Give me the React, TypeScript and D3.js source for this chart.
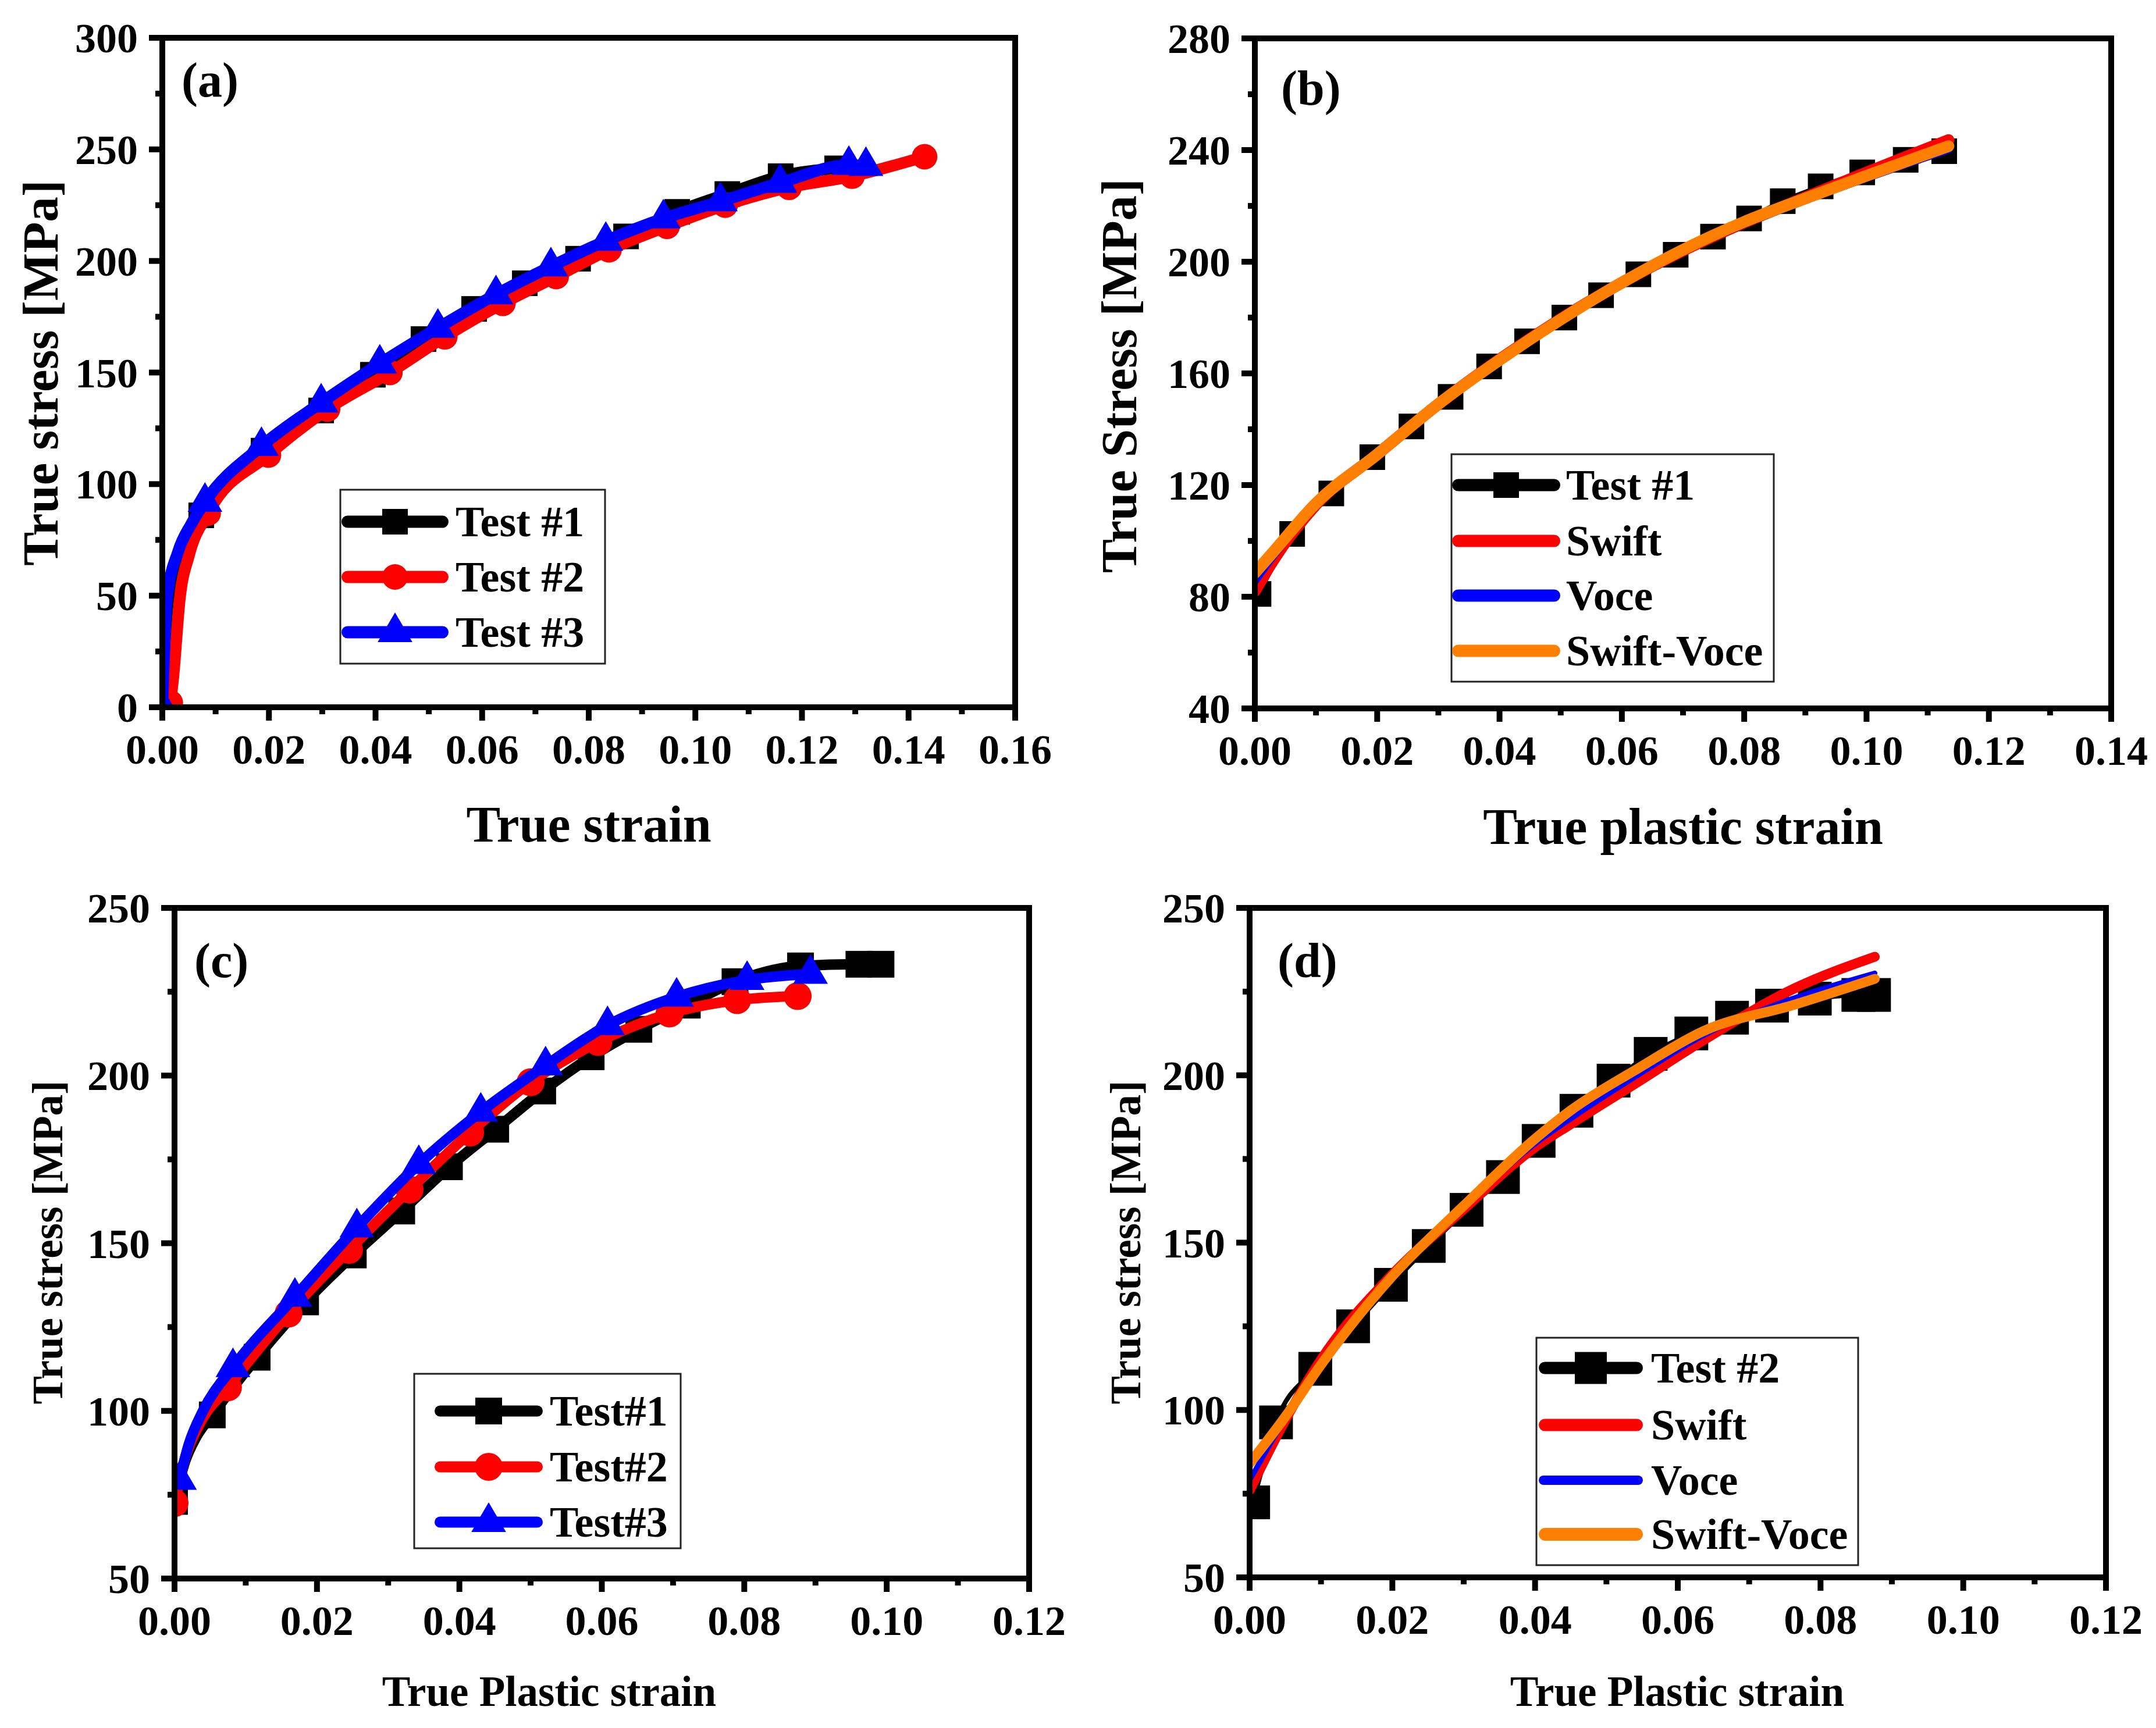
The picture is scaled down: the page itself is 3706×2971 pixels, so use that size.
import React from 'react';
import * as d3 from 'd3';

type Pt = [number, number];
type Shape = 'square' | 'circle' | 'triangle' | null;

// ---------- (a) true stress / true strain ----------
const aXTicks = [0, 0.02, 0.04, 0.06, 0.08, 0.1, 0.12, 0.14, 0.16];
const aYTicks = [0, 50, 100, 150, 200, 250, 300];
const aTest1: Pt[] = [[0, 0], [0.0073, 86], [0.019, 115], [0.0298, 133], [0.0395, 149], [0.049, 165], [0.0585, 178.5], [0.068, 190], [0.078, 201], [0.087, 211], [0.0966, 222], [0.106, 230], [0.116, 238], [0.1266, 241.5]];
const aTest1Ramp: Pt[] = [[0.0008, 40], [0.002, 60], [0.004, 74]];
const aTest2: Pt[] = [[0.0015, 2], [0.0086, 87], [0.0199, 113], [0.031, 133.6], [0.0427, 150], [0.053, 166], [0.0639, 181], [0.0739, 193], [0.0838, 205], [0.0947, 215.5], [0.1056, 225], [0.1176, 233], [0.1294, 238], [0.143, 246.7]];
const aTest2Ramp: Pt[] = [[0.002, 12], [0.0033, 49], [0.005, 68]];
const aTest3: Pt[] = [[0, 0], [0.008, 92], [0.0186, 117], [0.0298, 136.5], [0.0408, 154], [0.0517, 170], [0.0626, 185], [0.0729, 197.5], [0.0832, 209], [0.094, 219], [0.1047, 226.7], [0.1159, 235], [0.1288, 243], [0.132, 242.5]];
const aTest3Ramp: Pt[] = [[0.0009, 49], [0.003, 70], [0.0054, 82]];

// ---------- (b) test #1 and fits ----------
const bXTicks = [0, 0.02, 0.04, 0.06, 0.08, 0.1, 0.12, 0.14];
const bYTicks = [40, 80, 120, 160, 200, 240, 280];
const bTest1: Pt[] = [[0.0006, 81], [0.0061, 102.5], [0.0125, 117], [0.0192, 130], [0.0256, 141], [0.032, 151.6], [0.0383, 162.5], [0.0445, 171.5], [0.0506, 180], [0.0566, 188], [0.0627, 195.5], [0.0688, 202.5], [0.0749, 209], [0.0808, 215.5], [0.0863, 221.7], [0.0925, 227], [0.0993, 232], [0.1064, 236.5], [0.1127, 239.6]];
const bSwift: Pt[] = [[0, 82], [0.003, 93], [0.01, 113], [0.02, 131], [0.03, 149], [0.04, 165], [0.05, 179.5], [0.06, 192.5], [0.07, 204], [0.08, 214], [0.09, 223], [0.1, 232], [0.1134, 243.6]];
const bVoce: Pt[] = [[0, 86], [0.003, 95], [0.01, 113], [0.02, 131.5], [0.03, 149], [0.04, 165], [0.05, 179.5], [0.06, 192.5], [0.07, 204], [0.08, 213.8], [0.09, 222.3], [0.1, 230.3], [0.1134, 240.5]];
const bSwiftVoce: Pt[] = [[0, 88.5], [0.003, 96], [0.01, 113.5], [0.02, 131], [0.03, 149], [0.04, 164.8], [0.05, 179.3], [0.06, 192.5], [0.07, 204.3], [0.08, 214.3], [0.09, 222.7], [0.1, 230.8], [0.1134, 241.4]];

// ---------- (c) plastic strain, three tests ----------
const cXTicks = [0, 0.02, 0.04, 0.06, 0.08, 0.1, 0.12];
const cYTicks = [50, 100, 150, 200, 250];
const cTest1: Pt[] = [[0, 73], [0.0053, 98.8], [0.0116, 116], [0.0184, 132.5], [0.0251, 146.5], [0.0319, 159.6], [0.0386, 172.8], [0.0451, 184], [0.0517, 195.4], [0.0585, 205.6], [0.0652, 213.8], [0.072, 221], [0.0787, 228], [0.0879, 232.7], [0.0961, 233.2], [0.0992, 233.2]];
const cTest1Ramp: Pt[] = [[0.0015, 85], [0.003, 92]];
const cTest2: Pt[] = [[0, 72.5], [0.0075, 107], [0.016, 129], [0.0245, 148], [0.033, 166], [0.0415, 183], [0.05, 198], [0.0595, 210], [0.0695, 218.5], [0.079, 222.5], [0.0875, 223.7]];
const cTest2Ramp: Pt[] = [[0.0015, 86], [0.0035, 96]];
const cTest3: Pt[] = [[0.0007, 79.4], [0.0082, 113], [0.0169, 134], [0.0256, 154.7], [0.0343, 173.6], [0.043, 189.2], [0.0521, 203], [0.0608, 215], [0.0705, 223.5], [0.0804, 228.5], [0.0893, 230.3]];
const cTest3Ramp: Pt[] = [[0.002, 90], [0.004, 100]];

// ---------- (d) test #2 and fits ----------
const dXTicks = [0, 0.02, 0.04, 0.06, 0.08, 0.1, 0.12];
const dYTicks = [50, 100, 150, 200, 250];
const dTest2: Pt[] = [[0.0005, 72.4], [0.0037, 96.3], [0.0092, 112.3], [0.0145, 125], [0.0198, 137.4], [0.0251, 149], [0.0304, 159.8], [0.0355, 169.6], [0.0405, 180.4], [0.0458, 189.4], [0.051, 198.4], [0.0562, 206.4], [0.0619, 212.5], [0.0676, 217.2], [0.0732, 220.8], [0.0792, 222.9], [0.0853, 224], [0.0875, 224]];
const dSwift: Pt[] = [[0, 76], [0.005, 97], [0.01, 115], [0.02, 140.5], [0.03, 160], [0.04, 178.5], [0.045, 185.4], [0.0544, 198], [0.0637, 210.6], [0.0762, 225.8], [0.0876, 235.4]];
const dVoce: Pt[] = [[0, 79], [0.005, 97.5], [0.01, 114], [0.02, 140], [0.03, 160.5], [0.04, 179.5], [0.045, 187], [0.0544, 200], [0.0637, 212], [0.0762, 223], [0.0876, 230.5]];
const dSwiftVoce: Pt[] = [[0, 84], [0.005, 98], [0.01, 113.5], [0.02, 140], [0.03, 161], [0.04, 181], [0.045, 189.5], [0.0544, 202], [0.0637, 213.3], [0.0762, 221], [0.0876, 228.8]];

const FONT = '"Liberation Serif", "Times New Roman", Times, serif';
const RED = '#ff0000';
const BLUE = '#0000ff';
const ORANGE = '#ff8000';
const BLACK = '#000000';

interface Series {
  name: string;
  color: string;
  shape: Shape;
  points: Pt[];
  ramp?: Pt[];
  width: number;
  msize: number;
  legendWidth: number;
  legendMsize: number;
}

interface PanelDef {
  id: string;
  tag: string;
  tagX: number;
  tagY: number;
  box: { x0: number; x1: number; y0: number; y1: number };
  xDomain: [number, number];
  yDomain: [number, number];
  xTicks: number[];
  yTicks: number[];
  xLabel: string;
  yLabel: string;
  xLabelPos: [number, number];
  yLabelPos: [number, number];
  labelSize: number;
  yLabelSize: number;
  legend: { x0: number; x1: number; y0: number; y1: number; rows: number[]; lx0: number; lx1: number; tx: number };
  series: Series[];
}

const minors = (t: number[]) => t.slice(0, -1).map((v, i) => (v + t[i + 1]) / 2);

function Marker({ shape, x, y, size, color }: { shape: Shape; x: number; y: number; size: number; color: string }) {
  if (shape === 'square') return <rect x={x - size / 2} y={y - size / 2} width={size} height={size} fill={color} />;
  if (shape === 'circle') return <circle cx={x} cy={y} r={size / 2} fill={color} />;
  if (shape === 'triangle') {
    const w = size * 1.17;
    const h = size;
    return <path d={`M${x},${y - (2 * h) / 3}L${x + w / 2},${y + h / 3}L${x - w / 2},${y + h / 3}Z`} fill={color} />;
  }
  return null;
}

function Panel({ p }: { p: PanelDef }) {
  const { box } = p;
  const x = d3.scaleLinear().domain(p.xDomain).range([box.x0, box.x1]);
  const y = d3.scaleLinear().domain(p.yDomain).range([box.y1, box.y0]);
  const line = d3
    .line<Pt>()
    .x((d) => x(d[0]))
    .y((d) => y(d[1]))
    .curve(d3.curveMonotoneX);
  const fx = d3.format('.2f');
  const clipId = `clip-${p.id}`;
  const majorLen = 23;
  const minorLen = 12;
  const tickW = 10;

  return (
    <g>
      <defs>
        <clipPath id={clipId}>
          <rect x={box.x0} y={box.y0} width={box.x1 - box.x0} height={box.y1 - box.y0} />
        </clipPath>
      </defs>

      <g clipPath={`url(#${clipId})`}>
        {p.series.map((s) => {
          const all = [...s.points, ...(s.ramp ?? [])].sort((a, b) => a[0] - b[0]);
          return (
            <g key={s.name}>
              <path d={line(all) ?? ''} fill="none" stroke={s.color} strokeWidth={s.width} strokeLinejoin="round" strokeLinecap="round" />
              {s.shape &&
                s.points.map((d, i) => <Marker key={i} shape={s.shape} x={x(d[0])} y={y(d[1])} size={s.msize} color={s.color} />)}
            </g>
          );
        })}
      </g>

      {/* frame */}
      <rect x={box.x0} y={box.y0} width={box.x1 - box.x0} height={box.y1 - box.y0} fill="none" stroke={BLACK} strokeWidth={10} />

      {/* x ticks */}
      {p.xTicks.map((t) => (
        <g key={`x${t}`}>
          <line x1={x(t)} x2={x(t)} y1={box.y1} y2={box.y1 + majorLen} stroke={BLACK} strokeWidth={tickW} />
          <text x={x(t)} y={box.y1 + 97} textAnchor="middle" fontFamily={FONT} fontWeight="bold" fontSize={72}>
            {fx(t)}
          </text>
        </g>
      ))}
      {minors(p.xTicks).map((t) => (
        <line key={`xm${t}`} x1={x(t)} x2={x(t)} y1={box.y1} y2={box.y1 + minorLen} stroke={BLACK} strokeWidth={tickW} />
      ))}

      {/* y ticks */}
      {p.yTicks.map((t) => (
        <g key={`y${t}`}>
          <line x1={box.x0 - majorLen} x2={box.x0} y1={y(t)} y2={y(t)} stroke={BLACK} strokeWidth={tickW} />
          <text x={box.x0 - 42} y={y(t) + 25} textAnchor="end" fontFamily={FONT} fontWeight="bold" fontSize={72}>
            {t}
          </text>
        </g>
      ))}
      {minors(p.yTicks).map((t) => (
        <line key={`ym${t}`} x1={box.x0 - minorLen} x2={box.x0} y1={y(t)} y2={y(t)} stroke={BLACK} strokeWidth={tickW} />
      ))}

      {/* axis titles */}
      <text x={p.xLabelPos[0]} y={p.xLabelPos[1]} textAnchor="middle" fontFamily={FONT} fontWeight="bold" fontSize={p.labelSize}>
        {p.xLabel}
      </text>
      <text
        transform={`translate(${p.yLabelPos[0]},${p.yLabelPos[1]}) rotate(-90)`}
        textAnchor="middle"
        fontFamily={FONT}
        fontWeight="bold"
        fontSize={p.yLabelSize}
      >
        {p.yLabel}
      </text>

      {/* panel tag */}
      <text x={p.tagX} y={p.tagY} fontFamily={FONT} fontWeight="bold" fontSize={84}>
        {p.tag}
      </text>

      {/* legend */}
      <rect
        x={p.legend.x0}
        y={p.legend.y0}
        width={p.legend.x1 - p.legend.x0}
        height={p.legend.y1 - p.legend.y0}
        fill="#ffffff"
        stroke="#222"
        strokeWidth={3}
      />
      {p.series.map((s, i) => {
        const ry = p.legend.rows[i];
        const cx = (p.legend.lx0 + p.legend.lx1) / 2;
        return (
          <g key={`lg${s.name}`}>
            <line
              x1={p.legend.lx0 + s.legendWidth / 2}
              x2={p.legend.lx1 - s.legendWidth / 2}
              y1={ry}
              y2={ry}
              stroke={s.color}
              strokeWidth={s.legendWidth}
              strokeLinecap="round"
            />
            {s.shape && <Marker shape={s.shape} x={cx} y={ry} size={s.legendMsize} color={s.color} />}
            <text x={p.legend.tx} y={ry + 25} fontFamily={FONT} fontWeight="bold" fontSize={74}>
              {s.name}
            </text>
          </g>
        );
      })}
    </g>
  );
}

const panels: PanelDef[] = [
  {
    id: 'a',
    tag: '(a)',
    tagX: 312,
    tagY: 166,
    box: { x0: 279, x1: 1745, y0: 65, y1: 1216 },
    xDomain: [0, 0.16],
    yDomain: [0, 300],
    xTicks: aXTicks,
    yTicks: aYTicks,
    xLabel: 'True strain',
    yLabel: 'True stress [MPa]',
    xLabelPos: [1012, 1447],
    yLabelPos: [99, 641],
    labelSize: 88,
    yLabelSize: 87,
    legend: { x0: 585, x1: 1040, y0: 842, y1: 1141, rows: [897, 992, 1087], lx0: 587, lx1: 771, tx: 783 },
    series: [
      { name: 'Test #1', color: BLACK, shape: 'square', points: aTest1, ramp: aTest1Ramp, width: 20, msize: 44, legendWidth: 21, legendMsize: 44 },
      { name: 'Test #2', color: RED, shape: 'circle', points: aTest2, ramp: aTest2Ramp, width: 20, msize: 44, legendWidth: 21, legendMsize: 44 },
      { name: 'Test #3', color: BLUE, shape: 'triangle', points: aTest3, ramp: aTest3Ramp, width: 20, msize: 51, legendWidth: 21, legendMsize: 51 },
    ],
  },
  {
    id: 'b',
    tag: '(b)',
    tagX: 2202,
    tagY: 180,
    box: { x0: 2157, x1: 3629, y0: 66, y1: 1218 },
    xDomain: [0, 0.14],
    yDomain: [40, 280],
    xTicks: bXTicks,
    yTicks: bYTicks,
    xLabel: 'True plastic strain',
    yLabel: 'True Stress [MPa]',
    xLabelPos: [2893, 1451],
    yLabelPos: [1953, 646],
    labelSize: 88,
    yLabelSize: 87,
    legend: { x0: 2495, x1: 3049, y0: 781, y1: 1172, rows: [834, 930, 1024, 1119], lx0: 2496, lx1: 2682, tx: 2692 },
    series: [
      { name: 'Test #1', color: BLACK, shape: 'square', points: bTest1, width: 8, msize: 44, legendWidth: 21, legendMsize: 44 },
      { name: 'Swift', color: RED, shape: null, points: bSwift, width: 20, msize: 0, legendWidth: 21, legendMsize: 0 },
      { name: 'Voce', color: BLUE, shape: null, points: bVoce, width: 16, msize: 0, legendWidth: 21, legendMsize: 0 },
      { name: 'Swift-Voce', color: ORANGE, shape: null, points: bSwiftVoce, width: 20, msize: 0, legendWidth: 21, legendMsize: 0 },
    ],
  },
  {
    id: 'c',
    tag: '(c)',
    tagX: 334,
    tagY: 1680,
    box: { x0: 300, x1: 1769, y0: 1561, y1: 2714 },
    xDomain: [0, 0.12],
    yDomain: [50, 250],
    xTicks: cXTicks,
    yTicks: cYTicks,
    xLabel: 'True Plastic strain',
    yLabel: 'True stress [MPa]',
    xLabelPos: [944, 2933],
    yLabelPos: [107, 2136],
    labelSize: 73,
    yLabelSize: 73,
    legend: { x0: 712, x1: 1170, y0: 2362, y1: 2662, rows: [2426, 2522, 2617], lx0: 747, lx1: 933, tx: 945 },
    series: [
      { name: 'Test#1', color: BLACK, shape: 'square', points: cTest1, ramp: cTest1Ramp, width: 18, msize: 46, legendWidth: 19, legendMsize: 46 },
      { name: 'Test#2', color: RED, shape: 'circle', points: cTest2, ramp: cTest2Ramp, width: 18, msize: 48, legendWidth: 19, legendMsize: 48 },
      { name: 'Test#3', color: BLUE, shape: 'triangle', points: cTest3, ramp: cTest3Ramp, width: 18, msize: 51, legendWidth: 19, legendMsize: 51 },
    ],
  },
  {
    id: 'd',
    tag: '(d)',
    tagX: 2196,
    tagY: 1680,
    box: { x0: 2148, x1: 3620, y0: 1561, y1: 2712 },
    xDomain: [0, 0.12],
    yDomain: [50, 250],
    xTicks: dXTicks,
    yTicks: dYTicks,
    xLabel: 'True Plastic strain',
    yLabel: 'True stress [MPa]',
    xLabelPos: [2883, 2933],
    yLabelPos: [1960, 2136],
    labelSize: 73,
    yLabelSize: 73,
    legend: { x0: 2641, x1: 3194, y0: 2300, y1: 2691, rows: [2352, 2450, 2545, 2638], lx0: 2645, lx1: 2824, tx: 2838 },
    series: [
      { name: 'Test #2', color: BLACK, shape: 'square', points: dTest2, width: 8, msize: 58, legendWidth: 21, legendMsize: 55 },
      { name: 'Swift', color: RED, shape: null, points: dSwift, width: 17, msize: 0, legendWidth: 21, legendMsize: 0 },
      { name: 'Voce', color: BLUE, shape: null, points: dVoce, width: 9, msize: 0, legendWidth: 16, legendMsize: 0 },
      { name: 'Swift-Voce', color: ORANGE, shape: null, points: dSwiftVoce, width: 17, msize: 0, legendWidth: 22, legendMsize: 0 },
    ],
  },
];

export default function App() {
  return (
    <svg
      width={3706}
      height={2971}
      viewBox="0 0 3706 2971"
      style={{ position: 'absolute', left: 0, top: 0, background: '#ffffff' }}
    >
      <rect x={0} y={0} width={3706} height={2971} fill="#ffffff" />
      {panels.map((p) => (
        <Panel key={p.id} p={p} />
      ))}
    </svg>
  );
}
